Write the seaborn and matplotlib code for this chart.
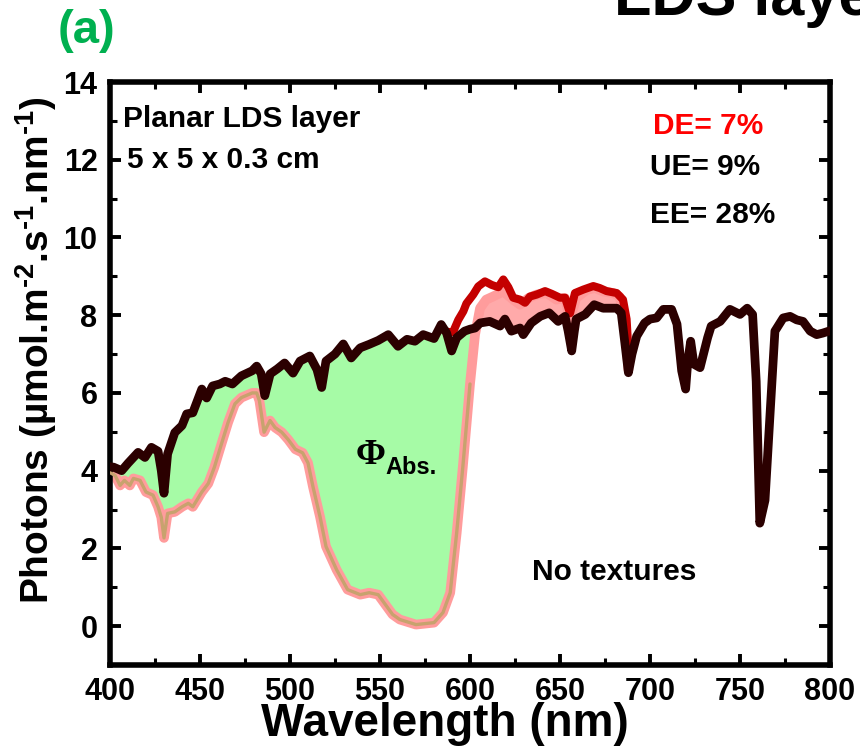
import numpy as np
import pandas as pd
import matplotlib
matplotlib.use("Agg")
import matplotlib.pyplot as plt
import seaborn as sns
from matplotlib.ticker import MultipleLocator

# ---------------- data ----------------
# reference spectrum (dark line)
wl_ref = [400, 402, 406.5, 410, 415.6, 419.4, 423, 426.7, 428.5, 430, 432, 436, 440, 442.6,
          446, 451, 453.7, 457, 461, 464, 468, 473, 479, 481.5, 484, 486, 489, 493, 497,
          501.7, 505.6, 511, 515, 517.6, 520, 525, 529.6, 534, 539, 544, 549, 554.6, 560,
          565, 569.4, 574, 580, 584, 587, 589.8, 592.6, 597, 600, 602.8, 605.6, 611, 616.7,
          619.4, 623, 627.8, 629.6, 634, 639, 644, 649, 652.8, 654.5, 656.5, 658, 659, 664,
          669, 674, 681.5, 684, 686, 688, 690, 692.6, 697, 700, 703.7, 707.4, 712, 715,
          717.6, 719.8, 721, 722.6, 724.4, 727.8, 732, 734, 739, 744.4, 750, 754, 757, 759,
          761, 763.9, 766.7, 769.4, 774, 777.8, 781.5, 785, 789, 792.6, 796, 800]
ph_ref = [4.10, 4.09, 4.00, 4.19, 4.47, 4.34, 4.60, 4.50, 4.00, 3.42, 4.43, 4.98, 5.16, 5.46,
          5.49, 6.10, 5.87, 6.18, 6.23, 6.30, 6.23, 6.44, 6.57, 6.69, 6.49, 5.93, 6.49, 6.62, 6.77,
          6.51, 6.82, 6.95, 6.60, 6.14, 6.82, 7.00, 7.26, 6.90, 7.16, 7.25, 7.35, 7.50, 7.20,
          7.38, 7.33, 7.50, 7.40, 7.76, 7.54, 7.08, 7.42, 7.59, 7.64, 7.67, 7.80, 7.84, 7.72,
          7.90, 7.59, 7.67, 7.50, 7.80, 7.97, 8.06, 7.84, 7.97, 7.60, 7.08, 7.60, 7.90, 8.02,
          8.27, 8.18, 8.18, 8.06, 7.30, 6.52, 7.00, 7.46, 7.80, 7.90, 7.93, 8.15, 8.15, 7.77,
          6.57, 6.10, 6.82, 7.33, 6.74, 6.65, 7.42, 7.72, 7.84, 8.15, 8.02, 8.18, 8.02, 6.30,
          2.65, 3.24, 5.46, 7.59, 7.93, 7.97, 7.88, 7.84, 7.59, 7.50, 7.54, 7.60]

# spectrum after the LDS layer (pink line)
wl_lds = [400, 402.8, 405.6, 408, 411, 413, 416.7, 420, 423.9, 426.7, 428.5, 430, 432, 436,
          440, 443.5, 446, 451, 454.6, 458, 462, 465.6, 469.4, 473, 479, 481.5, 483, 485.6,
          488.9, 491.7, 495.4, 499, 503, 507, 510, 512.8, 516.7, 520, 525.9, 532, 539, 544,
          549, 553.7, 557, 561, 570, 580, 585, 589, 592.6, 596, 600, 602.8, 605.6, 609,
          612.8, 618.5, 624, 627.8, 632.4, 637, 642.6, 648, 652.8, 655.6, 659, 664.8, 669.4,
          674, 679.6, 683, 686, 688]
ph_lds = [3.95, 3.88, 3.62, 3.75, 3.62, 3.80, 3.75, 3.45, 3.37, 3.07, 2.80, 2.27, 2.90, 2.94,
          3.07, 3.16, 3.07, 3.45, 3.67, 4.09, 4.70, 5.24, 5.72, 5.88, 6.00, 6.00, 5.80, 4.99,
          5.29, 5.11, 4.99, 4.80, 4.55, 4.46, 4.20, 3.58, 2.81, 2.05, 1.45, 0.94, 0.81, 0.86,
          0.81, 0.51, 0.30, 0.17, 0.04, 0.09, 0.35, 0.86, 2.40, 4.09, 6.23, 7.50, 8.18, 8.40,
          8.48, 8.61, 8.40, 8.27, 8.44, 8.53, 8.57, 8.40, 8.44, 7.90, 8.44, 8.65, 8.70,
          8.61, 8.57, 8.48, 7.97, 6.60]

# emitted / down-shifted contribution (red line)
wl_red = [586, 589, 590.7, 593.5, 596.3, 598, 601.8, 604.6, 608.3, 612, 615.7, 618.5, 621.3,
          624, 627.8, 630.6, 633.3, 637, 641.7, 645.4, 650, 652.8, 655.6, 658.3, 663, 668.5,
          672, 675.9, 681.5, 685, 687, 688.5]
ph_red = [7.60, 7.55, 7.58, 7.88, 8.10, 8.30, 8.53, 8.74, 8.87, 8.78, 8.72, 8.92, 8.72,
          8.45, 8.40, 8.32, 8.48, 8.53, 8.62, 8.55, 8.45, 8.45, 8.05, 8.57, 8.66, 8.75,
          8.70, 8.62, 8.57, 8.40, 7.90, 6.70]

x_ticks = [400, 450, 500, 550, 600, 650, 700, 750, 800]
y_ticks = [0, 2, 4, 6, 8, 10, 12, 14]

# ---------------- style ----------------
sns.set_style("ticks")
plt.rcParams['font.family'] = ['Liberation Sans', 'DejaVu Sans']
plt.rcParams['font.weight'] = 'bold'
plt.rcParams['text.color'] = 'black'
plt.rcParams['axes.labelcolor'] = 'black'
plt.rcParams['xtick.color'] = 'black'
plt.rcParams['ytick.color'] = 'black'
plt.rcParams['mathtext.fontset'] = 'custom'
plt.rcParams['mathtext.rm'] = 'Liberation Sans:bold'
plt.rcParams['mathtext.bf'] = 'Liberation Sans:bold'
plt.rcParams['mathtext.it'] = 'Liberation Sans:bold'

fig = plt.figure(figsize=(8.6, 7.5), dpi=100)
ax = fig.add_axes([110 / 860, 1 - 665 / 750, 720 / 860, 583 / 750])

ref = pd.DataFrame({'wl': wl_ref, 'ph': ph_ref})
lds = pd.DataFrame({'wl': wl_lds, 'ph': ph_lds})
red = pd.DataFrame({'wl': wl_red, 'ph': ph_red})

wr = np.array(wl_ref); pr = np.array(ph_ref)
wls = np.array(wl_lds); pls = np.array(ph_lds)

# green absorbed area (between reference and LDS curve, left part)
m1 = wr <= 603.3
m2 = wls <= 603.3
gx = np.concatenate([wr[m1], wls[m2][::-1]])
gy = np.concatenate([pr[m1], pls[m2][::-1]])
ax.fill(gx, gy, color='#a6fba6', lw=0, zorder=1)

# pink gain area (between LDS curve and reference, right part)
m3 = (wls >= 602.8) & (wls <= 688)
m4 = (wr >= 602.8) & (wr <= 688)
px_ = np.concatenate([wls[m3], wr[m4][::-1]])
py_ = np.concatenate([pls[m3], pr[m4][::-1]])
ax.fill(px_, py_, color='#ffaaaa', lw=0, zorder=1)

line_kw = dict(sort=False, estimator=None, legend=False, solid_joinstyle='round',
               solid_capstyle='round')
sns.lineplot(data=lds, x='wl', y='ph', ax=ax, color='#ff9c9c', linewidth=7, zorder=2, **line_kw)
sns.lineplot(data=lds[lds['wl'] <= 601], x='wl', y='ph', ax=ax, color='#c8a26e',
             linewidth=2.4, zorder=3, **line_kw)
sns.lineplot(data=red, x='wl', y='ph', ax=ax, color='#c40000', linewidth=5.8, zorder=4, **line_kw)
sns.lineplot(data=ref, x='wl', y='ph', ax=ax, color='#2b0000', linewidth=6.3, zorder=5, **line_kw)

# axes
ax.set_xlim(400, 800)
ax.set_ylim(-1, 14)
ax.set_xticks(x_ticks)
ax.set_yticks(y_ticks)
ax.xaxis.set_minor_locator(MultipleLocator(25))
ax.yaxis.set_minor_locator(MultipleLocator(1))
ax.tick_params(which='both', direction='in', top=True, right=True, labelsize=22, pad=9)
ax.tick_params(which='major', length=8, width=2.8)
ax.tick_params(which='minor', length=5, width=2.2)
for lab in ax.get_xticklabels() + ax.get_yticklabels():
    lab.set_fontweight('bold')
for s in ax.spines.values():
    s.set_linewidth(4)
    s.set_color('black')

ax.set_xlabel('Wavelength (nm)', fontsize=33, fontweight='bold')
ax.set_ylabel('Photons (µmol.m$^{\u20102}$.s$^{\u20101}$.nm$^{\u20101}$)',
              fontsize=28, fontweight='bold')
ax.xaxis.set_label_coords(0.465, -0.064)
ax.yaxis.set_label_coords(-0.071, 0.54)

# annotations
ax.text(407.2, 12.83, 'Planar LDS layer', fontsize=21.5, fontweight='bold', va='baseline')
ax.text(409.3, 11.8, '5 x 5 x 0.3 cm', fontsize=21.5, fontweight='bold', va='baseline')
ax.text(701.9, 12.66, 'DE= 7%', fontsize=21.5, fontweight='bold', color='#ff0000', va='baseline')
ax.text(700, 11.6, 'UE= 9%', fontsize=21.5, fontweight='bold', va='baseline')
ax.text(700, 10.36, 'EE= 28%', fontsize=21.5, fontweight='bold', va='baseline')
ax.text(634.3, 1.19, 'No textures', fontsize=21.5, fontweight='bold', va='baseline')
ax.text(536.5, 4.18, 'Φ', fontsize=26, fontweight='bold',
        family=['Liberation Serif', 'DejaVu Serif'], va='baseline', zorder=6)
ax.text(552.8, 3.92, 'Abs.', fontsize=17, fontweight='bold', va='baseline', zorder=6)

fig.text(58 / 860, 1 - 43 / 750, '(a)', color='#00b050', fontsize=34, fontweight='bold',
         va='baseline', ha='left')
fig.text(614 / 860, 1 - 15 / 750, 'LDS layer', fontsize=44, fontweight='bold',
         va='baseline', ha='left')

fig.savefig('out.png', dpi=100)
